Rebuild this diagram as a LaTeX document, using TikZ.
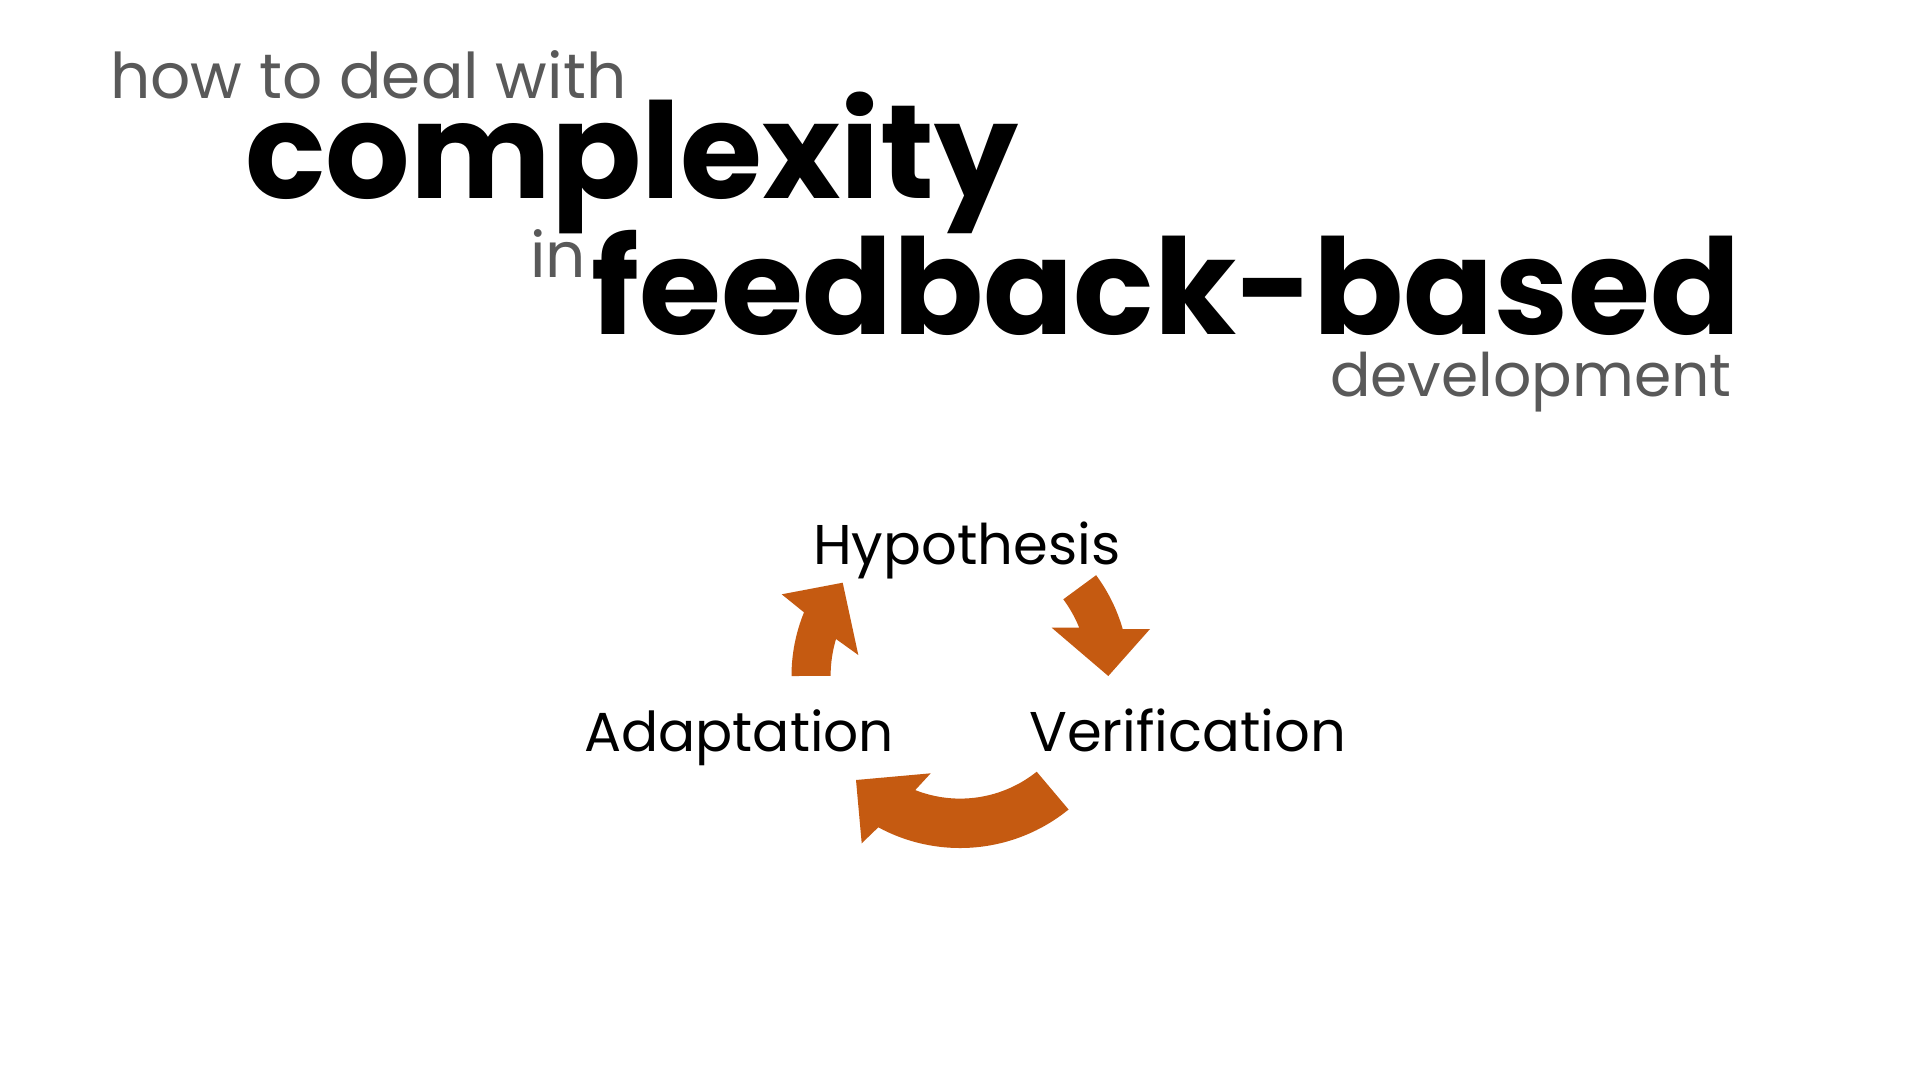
\documentclass[tikz,border=0pt]{standalone}
\usepackage{fontspec}
\setmainfont{Poppins}
\definecolor{gtext}{HTML}{595959}
\definecolor{arr}{HTML}{C55A11}
\begin{document}
\begin{tikzpicture}[x=1pt,y=-1pt,
  base/.style={inner sep=0pt, anchor=base west},
  sub/.style={base, text=gtext, font=\fontsize{63}{63}\selectfont},
  big/.style={base, text=black, font=\fontsize{133}{133}\selectfont\bfseries},
  cyc/.style={base, text=black, font=\fontsize{56}{56}\selectfont},
  arrowshape/.style={fill=arr, draw=none}]
\useasboundingbox (0,0) rectangle (1920,1080);
\fill[white] (0,0) rectangle (1920,1080);
\node[sub] (how) at (110,98) {how to deal with};
\node[big] (cx) at (245,198) {complexity};
\node[sub] (in) at (530,277) {in};
\node[big] (fb) at (591,334) {feedback-based};
\node[sub, font=\fontsize{60}{60}\selectfont] (dev) at (1330,396) {development};
\node[cyc] (hyp) at (813,564) {Hypothesis};
\node[cyc, font=\fontsize{55}{55}\selectfont] (ada) at (584,751) {Adaptation};
\node[cyc] (ver) at (1029,751) {Verification};
% left arrow (Adaptation -> Hypothesis)
\fill[arrowshape] (791.5,676) arc[start angle=180, end angle=202.2, radius=168.5]
  -- (781.7,594.3) -- (842.7,582.7) -- (858.3,655) -- (836,639)
  arc[start angle=196.6, end angle=180, radius=129.3] -- cycle;
% right arrow (Hypothesis -> Verification)
\fill[arrowshape] (1063.3,599.3) arc[start angle=-36.6, end angle=-22, radius=128]
  -- (1051.7,627.7) -- (1108.3,676) -- (1150,629) -- (1122.7,629)
  arc[start angle=-16.1, end angle=-36.5, radius=169.5] -- cycle;
% bottom arrow (Verification -> Adaptation)
\fill[arrowshape] (1036.7,771.7) arc[start angle=51.3, end angle=111.5, radius=122.5]
  -- (930.7,773.3) -- (856,780) -- (861.7,843.3) -- (878.3,827.3)
  arc[start angle=118.4, end angle=50.9, radius=172] -- cycle;
\end{tikzpicture}
\end{document}
